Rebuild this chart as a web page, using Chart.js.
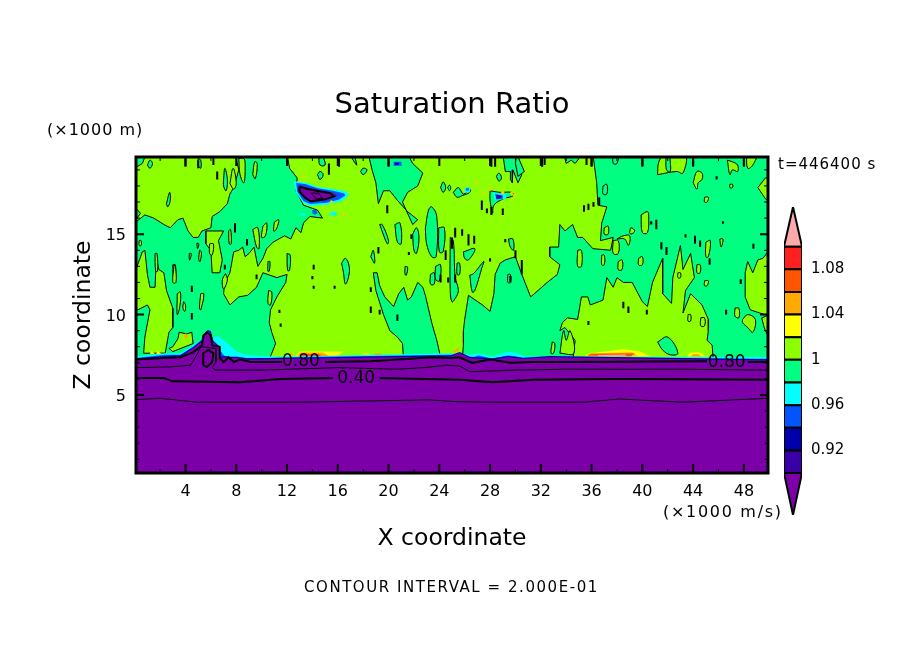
<!DOCTYPE html>
<html>
<head>
<meta charset="utf-8">
<title>Saturation Ratio</title>
<script src="https://cdn.jsdelivr.net/npm/chart.js@4"></script>
<style>
body { margin: 0; background: #fff; }
#wrap { position: relative; width: 904px; height: 654px; overflow: hidden; }
canvas { position: absolute; }
</style>
</head>
<body>
<div id="wrap">
<canvas id="contourChart" width="904" height="654" style="left:0;top:0"></canvas>
<canvas id="colorBar" width="120" height="330" style="left:775px;top:195px"></canvas>
</div>
<script>
// axis ticks
var xTicks = [4, 8, 12, 16, 20, 24, 28, 32, 36, 40, 44, 48];
var xMinorTicks = [2, 6, 10, 14, 18, 22, 26, 30, 34, 38, 42, 46];
var zTicks = [5, 10, 15];
var zMinorTicks = [1, 2, 3, 4, 6, 7, 8, 9, 11, 12, 13, 14, 16, 17, 18, 19];

// colour bar
var levels = [0.90, 0.92, 0.94, 0.96, 0.98, 1.00, 1.02, 1.04, 1.06, 1.08, 1.10];
var levelColors = ['#3a00a8', '#0000aa', '#0055ff', '#00ffff', '#00ff80', '#8cff00', '#ffff00', '#ffaa00', '#ff5500', '#ff2020'];
var barTicks = [0.92, 0.96, 1, 1.04, 1.08];
var overColor = '#ffaaaa', underColor = '#7c00a8';

// regions at saturation ratio below 1 (x, z in km)
var greenRegions = [
  [[8.3,20],[12,20],[12.2,19.1],[12.8,18.5],[12.7,17.7],[13.3,16.8],[14.4,16.5],[14.8,16],[13.8,16.1],[13.3,15.7],[13.1,15.1],[12.7,15.4],[12.3,14.7],[11.8,14.9],[10.9,14.5],[10.4,14.1],[10.1,13.5],[9.7,13],[9.4,14.2],[9,13.8],[8.7,13.6],[8.5,14.2],[8.2,14],[7.8,13.9],[7.5,12.6],[7.1,12],[7,11.3],[7.5,10.6],[8.2,11.1],[8.9,11.2],[9.6,11.7],[10.1,12.6],[11.2,12.3],[12,12.5],[11.9,12],[11.2,11.1],[10.7,10.3],[10.6,9.5],[10.8,8.9],[11.1,8.2],[10.5,7],[0,7],[0,15.7],[0.8,16.2],[1.5,16],[2.3,15.6],[2.8,15.4],[3.4,15.9],[3.8,16],[4.2,15.2],[4.6,14.8],[5,14.8],[5.3,15.2],[6,15.4],[6.1,16.1],[6.7,16.4],[7.3,16.9],[7.5,17.5],[7.8,17.9],[8.2,19],[7.9,20]],
  [[18.4,20],[18.7,19],[19,18.2],[19.2,16.9],[19.6,17.7],[20.1,17.7],[20.7,17.1],[21.5,16.4],[22.3,15.9],[21.9,15.6],[21.1,17],[21.5,17.6],[22.3,18],[22.7,18.8],[21.9,19.4],[21.5,20]],
  [[18.8,12.6],[19,11.5],[19.6,10],[20.1,9],[20.7,8.6],[21.1,8.2],[21.2,7],[24.2,7],[23.8,8.4],[23.4,9.5],[22.9,11.2],[22.7,11.7],[22.3,12],[21.8,11.1],[21.5,10.9],[21.2,11.7],[20.8,11.3],[20.4,10.5],[19.7,11.1],[19.3,11.8],[19.1,12.6]],
  [[36.1,20],[36.4,18.2],[36.5,16.8],[37.2,16.7],[36.8,15.7],[36.7,14.6],[37.7,14.8],[37.5,14],[36.1,14.1],[35.3,14.8],[34.9,14.8],[34.5,15.6],[33.9,15.2],[33.5,15.6],[33.4,14.2],[32.7,14.2],[32.7,13.6],[33.5,13.1],[33.3,12.5],[32.5,12],[31.2,11.1],[30.5,12.5],[30,13.6],[29.2,13.4],[28.8,13.2],[28.4,12.5],[28.3,11.3],[28,10.2],[27.4,10.6],[26.3,11.2],[26,9.7],[25.9,9],[25.9,8.2],[25.8,7],[50,7],[50,20]],
  [[29,20],[30.1,20],[30,19.3],[30.5,18.7],[30.2,18.2],[29.8,19],[29.75,18.2],[29.6,18.4],[29.6,18.9],[29.2,18.9]],
  [[30.1,20],[30.7,18.9],[30.2,18.6],[30,19.4]],
  [[33.8,20],[34,19.4],[34.4,19.6],[34.7,19.4],[35,19.7],[35.1,20]],
  [[0,20],[0.9,20],[0.6,19.4],[0.2,19.2],[0,19.1]],
  [[0,16.7],[0.45,16.3],[0,15.8]]
];

// lime areas that sit on top of the green ones
var limeRegions = [
  [[0,12.6],[0.6,13.9],[0.8,14],[1,12.5],[1.2,11.7],[1.6,11.7],[1.7,13.5],[1.9,12.8],[2.3,12.6],[2.5,11.5],[3,10.4],[3,9.2],[2.7,8.9],[2.4,7.6],[0.7,7.6],[0.8,8.6],[1.2,10.3],[1,10.6],[0,10.2]],
  [[2.7,7.9],[3,7.7],[4.6,8.2],[4.5,8.9],[4.1,8.8],[3.5,8.9],[3.4,8.5],[3,8]],
  [[5.6,15.2],[5.6,14.4],[6,14],[6.1,12.6],[6.7,12.6],[6.9,13.4],[6.6,14.6],[7,15.2]],
  [[33.5,9],[33.7,9.5],[34.1,9.8],[34.9,9.7],[35.2,11.1],[35.7,11.1],[35.9,10.6],[36.9,10.9],[37.2,12.3],[37.7,11.7],[38,12.3],[38.5,12],[39.2,12],[40,10.8],[40.4,10.5],[40.8,12],[41.6,13.5],[41.6,11.3],[42.3,10.7],[42.4,12.3],[43,14.3],[43.2,12.8],[43.8,13.8],[44.1,12.3],[43.4,11.5],[43.2,10.1],[43.8,11.3],[44.7,10.6],[45.2,9.7],[45.2,9],[45.1,8.4],[45.5,8.1],[45.6,7],[34.5,7],[34.7,8.4],[33.9,9.2]],
  [[48.1,12.6],[48.3,13.3],[48.7,12.6],[49.1,13.4],[49.5,13.5],[50,14],[50,9.9],[48.5,10.3],[48.1,11.1]],
  [[49.1,17.9],[49.7,18.5],[50,18.5],[50,17.1],[49.7,17.2]]
];

// small closed contours around lime cells
var limeCells = [
  [[7.5,18.15],[7.75,19.1],[8,18.15],[7.8,17.8]],
  [[9.3,18.7],[9.45,19.5],[9.65,19.4],[9.5,18.45]],
  [[8.2,19.7],[8.6,19.7],[8.7,19.2],[8.6,18.2],[8.3,18.7]],
  [[7.4,15.2],[7.55,15.3],[7.6,14.4],[7.45,14.4]],
  [[11,15.75],[11.35,15.9],[11.15,15.3],[10.95,15.2]],
  [[10.1,15.5],[10.4,15.7],[10.3,14.9],[10,14.8]],
  [[9.3,15.3],[9.7,15.4],[9.8,14.1],[9.6,14.2]],
  [[5.9,14.4],[6.2,14.4],[6.1,13.7],[5.9,13.8]],
  [[5.1,14],[5.25,13.9],[5.15,13.3],[5.05,13.4]],
  [[4.3,13.8],[4.45,13.8],[4.35,13.4],[4.3,13.4]],
  [[4.9,14.45],[5.05,14.4],[4.95,14.1]],
  [[1.6,13.8],[1.75,13.8],[1.8,12.7],[1.65,12.7]],
  [[0.35,14.6],[0.5,14.6],[0.5,14.3],[0.35,14.3]],
  [[3,13.1],[3.2,13.1],[3.2,12.2],[3.05,12.2]],
  [[3.35,11.3],[3.6,11.4],[3.55,10.5],[3.35,10]],
  [[3.85,10.8],[4,10.6],[3.95,10.2],[3.8,10.4]],
  [[5.2,11.3],[5.45,11.3],[5.2,10.3],[5.1,10.4]],
  [[3.1,13.1],[3.2,13],[3.25,12],[3,12]],
  [[7.15,12.55],[7.3,12.15],[7,11.6],[6.9,12.15]],
  [[10.55,11.5],[10.8,11.4],[10.7,10.6],[10.5,10.7]],
  [[41.2,18.7],[41.3,19.5],[41.8,20],[41.9,19],[42.2,18.9],[42.3,20],[43.4,20],[43.2,18.8],[42.7,18.9]],
  [[48.2,20],[49,20],[48.7,19.3],[48.3,19.1]],
  [[46.7,19.6],[46.9,18.7],[47.1,19],[47.5,18.9],[47.5,19.3],[47.1,19.5]],
  [[44,18.2],[44.3,18.9],[44.7,18.8],[44.7,18.4],[44.4,18.2],[44.3,17.8]],
  [[39.9,16.2],[40.4,16.4],[40.5,16.1],[40.4,15.1],[40,15.1]],
  [[39,15.1],[39.1,15.4],[39.4,15.2],[39.1,15]],
  [[38,14.7],[38.5,14.9],[39,14.9],[38.9,14.3],[38.6,14.7]],
  [[37.7,14.6],[38.1,14.6],[38.1,13.8],[37.7,13.8]],
  [[38.1,13.3],[38.4,13.4],[38.4,12.8],[38.1,12.8]],
  [[39.7,13.5],[40,13.6],[40,13.1],[39.7,13.1]],
  [[47.9,9.7],[48.3,10],[48.9,9.7],[48.7,8.9],[48.3,9.2],[47.9,9.5]],
  [[49.4,9.8],[50,9.9],[50,8.7],[49.7,9]],
  [[44.3,13.1],[44.55,13.1],[44.55,12.6],[44.3,12.6]],
  [[45,14.5],[45.35,14.6],[45.2,13.6],[45,13.6]],
  [[46.1,14.7],[46.35,14.7],[46.2,14.2]],
  [[47.3,10.4],[47.6,10.4],[47.6,9.8],[47.3,9.9]],
  [[44.9,17.3],[45.2,17.3],[45.1,17],[44.9,17]],
  [[46.9,18.1],[47.1,18.1],[47.1,17.9],[46.9,17.9]],
  [[43.6,10],[43.8,10],[43.8,9.6],[43.6,9.6]],
  [[44.6,9.8],[44.9,9.8],[44.9,9.3],[44.6,9.3]],
  [[37,15.4],[37.3,15.5],[37.3,15],[37,15]],
  [[44.9,12.1],[45.2,12.1],[45.1,11.8],[44.9,11.8]],
  [[42.8,12.6],[43,12.6],[43,12.3],[42.8,12.3]],
  [[36.8,13.7],[37,13.7],[37,13.1],[36.8,13.1]],
  [[34.9,14],[35.2,14],[35.2,13],[34.9,13]],
  [[32.9,8.3],[33.1,8.2],[33,7.6],[32.8,7.6]],
  [[33.5,7.6],[33.8,9],[34,8.4],[34.3,9],[34.6,7.6]]
];

// small closed contours around green cells
var greenCells = [
  [[7,18.4],[7.1,19.1],[7.3,18.4],[7.2,17.7],[7,18]],
  [[1,19.3],[1.2,19.6],[1.4,19.4],[1.2,19.1]],
  [[2.5,16.9],[2.75,17.6],[2.8,17.1],[2.6,16.7]],
  [[5,19.7],[5.2,19.6],[5.2,19.1],[5,19.3]],
  [[14.5,19.7],[14.8,19.8],[15,19.3],[14.6,19.3]],
  [[16.9,20],[17.2,20],[17.5,19.3],[17.3,19.5]],
  [[14.4,18.7],[14.6,18.9],[14.85,18.7],[14.6,18.4]],
  [[17.8,18.9],[18,19.1],[18.3,19],[18,18.7]],
  [[24.1,17.9],[24.3,18.25],[24.5,17.9],[24.3,17.6]],
  [[24.65,17.9],[24.8,18.05],[24.9,17.9],[24.8,17.7]],
  [[19.3,15.6],[19.5,15.6],[20,14.6],[19.9,14.4]],
  [[20.5,15.6],[20.9,15.7],[21,14.4],[20.7,14.5]],
  [[21.9,15],[22.2,15.4],[22.4,14.8],[22.2,13.8],[22,14]],
  [[22.9,15.35],[23.15,16.5],[23.4,16.7],[23.8,16.1],[23.75,13.6],[23.4,13.6],[23,14.4]],
  [[23.95,15.4],[24.4,15.4],[24.3,13.9],[24,13.9]],
  [[16.3,13.2],[16.6,13.5],[16.9,13],[16.85,12.35],[16.6,11.9],[16.45,12.6]],
  [[18.6,13.6],[18.8,14],[18.9,13.2]],
  [[21.3,13],[21.5,12.95],[21.4,12.45],[21.3,12.5]],
  [[23.3,12.5],[23.6,12.6],[23.6,11.9],[23.3,11.9]],
  [[23.7,13],[24.1,13.1],[24,12.1],[23.7,12.2]],
  [[24.86,14.8],[25.1,14.6],[25.25,12.35],[25.5,11.5],[25.25,11],[25,10.8],[24.86,11.5]],
  [[26.4,12.45],[26.7,12.55],[27.5,13.3],[27.35,12.9],[26.8,11.5],[26.6,11.4]],
  [[25.9,13.9],[26.8,14.1],[26.3,13.4],[26,13.5]],
  [[28.5,18.6],[28.7,18.8],[28.9,18.5],[28.7,18.3]],
  [[29.45,14.7],[29.8,14.7],[29.85,14],[29.6,14.2]],
  [[29.4,12.5],[29.6,12.5],[29.6,12],[29.4,12]],
  [[25.4,13.2],[25.6,13.2],[25.6,12.5],[25.4,12.5]],
  [[36.9,18],[37.2,18.1],[37.2,17.5],[36.9,17.5]],
  [[37.7,20],[38.1,20],[38,19.4],[37.7,19.4]],
  [[12,13.8],[12.25,13.7],[12.2,12.75],[12.05,12.75]],
  [[10.5,13.3],[10.65,13.3],[10.6,12.7],[10.5,12.7]],
  [[25.1,17.6],[25.5,17.9],[25.9,17.5],[26.4,17.8],[26.4,17.6],[25.8,17.4],[25.4,17.3]],
  [[28,17.7],[28.8,17.6],[29.7,17.6],[29.85,17.4],[29.05,17.2],[28.3,16.8],[28.2,16.3],[28,17.1]],
  [[41.2,8.3],[42,8.6],[42.8,7.6],[42.2,7.5],[41.6,7.8]]
];

// short closed cells that read as dashes: x, z top, z bottom
var dashX = [6.5,4,7.9,14.1,14.1,14,15.75,4.5,4.5,7.1,8.85,9.6,18.6,19.2,20,19.9,24.5,25,25.25,25.25,24.1,24.7,20.7,18.6,19.3,5,6.2,16.1,15.3,21.8,21.6,28.1,28.4,32.1,32.3,35.6,36,40,44,48,27.35,27.75,28.1,29,35.4,35.75,36.15,36.6,25.8,26.3,26.75,30,29.2,28,30.5,29.6,41.1,40.7,45.85,43.4,44.15,44.55,41.5,41.9,45.3,48.75,47.75,46.6,40.35,38.9,38.5,35.75,46.35,11.4,11.5];
var dashTop = [18.9,19.7,15.7,13.1,11.8,12.4,11.8,11.8,10.1,13.1,14.7,12.5,11.7,14.2,19.8,16.8,14,14.8,15.4,12.5,12.5,12.3,10,10.5,10.3,19.6,19.8,19.7,19.4,15,13.9,19.8,19.8,19.8,19.8,19.8,19.8,19.8,19.8,19.8,17.1,16.6,16.7,16.6,16.8,16.9,17,17.3,15.3,15,14.9,14,14.7,13.5,13.4,12.4,15.9,15.8,18.6,15,14.9,14.6,14.5,14.2,13.5,14.4,12.2,10.3,10.3,10.5,10.8,9.6,15.8,10.3,9.45];
var dashBottom = [18.4,19.2,15.1,12.8,11.6,12.2,11.6,11.4,9.7,12.8,14.3,12.2,11.4,13.8,19.2,16.3,13.4,14.1,14.8,12,12,12,9.6,10.1,10,19.1,19.3,19.2,18.7,14.7,13.7,19.2,19.2,19.2,19.3,19.3,19.2,19.2,19.2,19.2,16.5,16.3,16.2,16.2,16.4,16.5,16.7,16.8,14.9,14.3,14.4,13.5,14.5,13.3,12.5,12,15.3,15.6,18.4,14.8,14.4,14.2,14.05,13.7,13.1,14.1,11.9,10,10,10.1,10.4,9.35,15.65,10.1,9.25];

// tops of the stable layer, one list per colour
var cyanTop = [[0,7.4],[2.4,7.6],[3.6,7.6],[4.6,8.1],[5.3,8.5],[5.7,9.05],[6,9.05],[6.1,8.55],[6.6,8.65],[7.4,8.15],[8,7.7],[8.8,7.5],[10.7,7.4],[12.3,7.4],[24.9,7.6],[26.4,7.5],[27.1,7.6],[28.2,7.4],[29.4,7.7],[30.1,7.6],[30.8,7.4],[32.7,7.4],[50,7.35]];
var blueTop = [[0,7.3],[2.4,7.5],[3.6,7.5],[4.6,8],[5.3,8.45],[5.7,9.05],[6,9],[6.1,8.4],[6.4,8.1],[6.9,7.6],[7.3,7.2],[7.8,7.3],[8.6,7.3],[10.7,7.3],[12.3,7.35],[24.9,7.5],[26.4,7.3],[27.1,7.45],[28.2,7.25],[29.4,7.45],[30.1,7.4],[30.8,7.25],[32.7,7.3],[50,7.25]];
var darkBlueTop = [[0,7.28],[2.4,7.42],[3.6,7.47],[4.6,7.97],[5.4,8.48],[5.6,8.93],[5.8,9.05],[6,8.93],[6.2,8.38],[6.6,8.08],[6.7,7.38],[7.1,7.42],[7.5,7.38],[8.1,7.38],[8.9,7.28],[12.3,7.32],[24.9,7.47],[25.6,7.67],[26.4,7.38],[28.2,7.28],[29.4,7.42],[30.6,7.32],[32.7,7.42],[50,7.22]];
var purpleTop = [[0,7.2],[2.4,7.35],[3.6,7.4],[4.6,7.9],[5.4,8.4],[5.6,8.85],[5.8,9],[6,8.85],[6.2,8.3],[6.6,8],[6.7,7.3],[7.1,7.35],[7.5,7.3],[8.1,7.3],[8.9,7.2],[12.3,7.25],[24.9,7.4],[25.6,7.6],[26.4,7.3],[28.2,7.2],[29.4,7.35],[30.6,7.25],[32.7,7.35],[50,7.15]];

// warm cells along the top of the stable layer
var warmCells = [
  ['#ffff00', [[12.7,7.4],[13,7.7],[15.2,7.7],[16.5,7.7],[15.9,7.4]]],
  ['#ffaa00', [[12.8,7.4],[13,7.65],[14.8,7.65],[15.4,7.4]]],
  ['#ff5500', [[13.1,7.4],[13.2,7.55],[14.5,7.55],[14.8,7.4]]],
  ['#ffff00', [[17.8,7.4],[18,7.6],[18.4,7.6],[18.5,7.4]]],
  ['#ffaa00', [[18.7,7.4],[18.9,7.6],[19.4,7.6],[19.6,7.4]]],
  ['#ff5500', [[19,7.4],[19.1,7.5],[19.3,7.5],[19.4,7.4]]],
  ['#ffaa00', [[12.1,7.45],[12.3,7.65],[12.5,7.45]]],
  ['#ffaa00', [[24.9,7.6],[25.6,8],[25.5,7.75]]],
  ['#ffff00', [[35.4,7.4],[35.9,7.6],[38.5,7.85],[39.8,7.7],[40.7,7.4]]],
  ['#ffaa00', [[35.6,7.4],[35.9,7.6],[39.2,7.65],[39.6,7.45]]],
  ['#ff5500', [[35.7,7.45],[35.9,7.55],[39.4,7.6],[39.1,7.4]]],
  ['#ffaaaa', [[36.5,7.48],[38.7,7.52],[38.7,7.44],[36.5,7.42]]],
  ['#ffff00', [[43.5,7.4],[43.8,7.65],[44.5,7.65],[45.1,7.4]]],
  ['#ffaa00', [[43.8,7.4],[44,7.55],[44.4,7.55],[44.7,7.4]]],
  ['#ffff00', [[1.2,7.55],[1.3,7.75],[1.6,7.55]]],
  ['#ffff00', [[1.7,7.55],[1.8,7.75],[2.1,7.55]]],
  ['#ffaa00', [[3.9,8.65],[4,8.85],[4.2,8.65],[4,8.45]]]
];

// the dry patch near x = 14, z = 17.5
var patchCyan = [[12.5,18.3],[13.5,18.2],[14.4,17.95],[15.7,17.8],[16.7,17.65],[16.85,17.4],[16.3,17.05],[15.2,16.85],[13.8,16.75],[13.25,16.95],[12.7,17.6]];
var patchBlue = [[12.7,18.2],[13.5,18.1],[14.4,17.85],[15.6,17.7],[16.5,17.55],[16.6,17.4],[16.1,17.15],[15.1,16.95],[13.85,16.87],[13.3,17.05],[12.85,17.6]];
var patchPurple = [[12.9,18.05],[13.7,17.9],[15.6,17.6],[16,17.4],[15.15,17.1],[13.85,17],[13.3,17.25],[12.8,17.7]];
var patchContour = [[13,17.95],[13.7,17.8],[15.4,17.55],[15.7,17.35],[14.9,17.15],[13.85,17.05],[13.4,17.3],[13,17.65]];
var patchInner = [[13.9,17.55],[14.5,17.55],[14.8,17.2],[14.3,17.2]];
var spotCells = [
  ['#0055ff', [[14,16.5],[14.3,16.5],[14.4,16.3],[14.2,16.2],[14,16.3]]],
  ['#00ffff', [[15.3,16.25],[15.7,16.45],[16,16.25],[15.7,16.15],[15.3,16.2]]],
  ['#00ffff', [[13.1,16.3],[13.4,16.3],[13.4,16.15],[13.1,16.15]]],
  ['#0055ff', [[20.4,19.5],[21,19.5],[21.05,19.25],[20.4,19.25]]],
  ['#0000aa', [[20.5,19.45],[20.8,19.45],[20.8,19.3],[20.5,19.3]]],
  ['#00ffff', [[28.2,17.6],[29.2,17.5],[29.3,17.2],[28.4,17.1]]],
  ['#0055ff', [[28.4,17.5],[29,17.4],[29,17.2],[28.5,17.15]]],
  ['#3a00a8', [[28.5,17.45],[28.9,17.4],[28.9,17.25],[28.5,17.2]]],
  ['#00ffff', [[26,17.9],[26.45,17.9],[26.4,17.6],[26,17.6]]],
  ['#0055ff', [[26.1,17.85],[26.35,17.85],[26.3,17.7],[26.1,17.7]]]
];
var warmDotX = [26.9,27.5,28,29,29.7,29.9,13.3,15.5,16.45];
var warmDotZ = [18.2,17.6,17.8,17.6,17.55,17.4,18.6,17,16.2];

// labelled contour lines
var line080a = [[0,7.2],[2.3,7.3],[3.6,7.35],[4.6,7.65],[5.3,8.1],[5.4,8.7],[5.7,8.9],[6,8.7],[6.1,8.1],[6.7,8],[6.7,7.3],[7,7.05],[7.4,7.35],[7.8,7.05],[8.3,7.2],[9.1,7.05],[10.9,7.05],[11.6,7.05]];
var line080b = [[15,7.05],[18.6,7.1],[21.7,7.25],[23.3,7.35],[24.9,7.3],[25.6,7.35],[26.6,7],[28,7.2],[29.6,7],[31.4,7.05],[34.3,7.05],[45.1,7.1]];
var line080c = [[48.3,7.05],[50,7.05]];
var line080loop = [[5.4,6.85],[5.4,7.6],[5.8,7.8],[6.2,7.6],[6.1,7.05],[5.7,6.75],[5.4,6.85]];
var line060 = [[0,6.7],[2.8,6.75],[4.4,6.85],[4.9,7.5],[5.2,8],[6.4,7.9],[6.4,7.05],[6.1,6.7],[6.4,6.55],[8.1,6.55],[10.1,6.55],[16,6.7],[20.7,6.6],[22.7,6.7],[24.6,6.85],[25.6,6.8],[26.4,6.45],[30.1,6.55],[33.8,6.6],[43.2,6.6],[50,6.55]];
var line040a = [[0,6.05],[2.3,6.05],[3,5.85],[8.3,5.8],[11.5,6],[15.6,6.05]];
var line040b = [[19.3,6.05],[25.6,5.95],[28.2,5.8],[31.4,5.95],[37.5,6],[39.2,6],[50,5.95]];
var line020 = [[0,4.7],[2,4.8],[4.9,4.55],[12.8,4.55],[23.3,4.7],[24.9,4.6],[28.2,4.55],[35.3,4.55],[38.2,4.75],[43.2,4.55],[50,4.8]];
var contourLabelText = ['0.80', '0.40', '0.80'];
var contourLabelX = [13.1, 17.45, 46.65];
var contourLabelZ = [7.05, 6.05, 7.0];

var chartTitle = 'Saturation Ratio';
var xTitle = 'X coordinate';
var zTitle = 'Z coordinate';
var zUnit = '(\u00d71000 m)';
var xUnit = '(\u00d71000 m/s)';
var timeLabel = 't=446400 s';
var footerLabel = 'CONTOUR INTERVAL = 2.000E-01';

var LIME = '#8cff00', GREEN = '#00ff80', PURPLE = '#7c00a8';
var FONT = '"DejaVu Sans"';

function toPoints(list) {
    return list.map(function (p) { return { x: p[0], y: p[1] }; });
}

function shape(list, color, lineWidth, smooth) {
    var pts = toPoints(list);
    pts.push(pts[0]);
    return {
        data: pts,
        showLine: true,
        fill: 'shape',
        backgroundColor: color,
        borderColor: lineWidth ? '#000' : color,
        borderWidth: lineWidth || 0,
        pointRadius: 0,
        tension: smooth || 0
    };
}

function band(top, color) {
    return shape(top.concat([[50, 0], [0, 0]]), color, 0);
}

function line(list, width) {
    return {
        data: toPoints(list),
        showLine: true,
        fill: false,
        borderColor: '#000',
        borderWidth: width,
        pointRadius: 0,
        tension: 0
    };
}

var layers = [];
layers.push(shape([[0, 0], [50, 0], [50, 20], [0, 20]], LIME, 0));
greenRegions.forEach(function (r) { layers.push(shape(r, GREEN, 1)); });
limeRegions.forEach(function (r) { layers.push(shape(r, LIME, 1)); });
limeCells.forEach(function (r) { layers.push(shape(r, LIME, 1, 0.4)); });
greenCells.forEach(function (r) { layers.push(shape(r, GREEN, 1, 0.4)); });
warmCells.forEach(function (r) { layers.push(shape(r[1], r[0], 0)); });
spotCells.forEach(function (r) { layers.push(shape(r[1], r[0], 0)); });
layers.push(shape(patchCyan, '#00ffff', 0));
layers.push(shape(patchBlue, '#0055ff', 0));
layers.push(shape(patchPurple, PURPLE, 0));
layers.push(shape(patchContour, PURPLE, 2));
layers.push(shape(patchInner, PURPLE, 1));
layers.push(band(cyanTop, '#00ffff'));
layers.push(band(blueTop, '#0055ff'));
layers.push(band(darkBlueTop, '#0000aa'));
layers.push(band(purpleTop, PURPLE));
layers.push(line(line020, 1));
layers.push(line(line060, 1));
layers.push(line(line040a, 2));
layers.push(line(line040b, 2));
layers.push(line(line080a, 2));
layers.push(line(line080b, 2));
layers.push(line(line080c, 2));
layers.push(line(line080loop, 2));

var dashPoints = [];
dashX.forEach(function (x, i) {
    dashPoints.push({ x: x, y: dashTop[i] }, { x: x, y: dashBottom[i] }, { x: x, y: null });
});
layers.push({ data: dashPoints, showLine: true, spanGaps: false, borderColor: '#000', borderWidth: 2, pointRadius: 0, fill: false });

layers.push({
    data: warmDotX.map(function (x, i) { return { x: x, y: warmDotZ[i] }; }),
    showLine: false,
    pointStyle: 'rectRot',
    pointRadius: 2,
    pointBorderWidth: 0,
    backgroundColor: '#ffcc00'
});

// first dataset is drawn last by Chart.js, so order them by hand
layers.forEach(function (ds, i) { ds.order = layers.length - i; });

var framePlugin = {
    id: 'frame',
    afterDatasetsDraw: function (chart) {
        var ctx = chart.ctx, a = chart.chartArea;
        var xs = chart.scales.x, ys = chart.scales.y;
        ctx.save();
        ctx.strokeStyle = '#000';

        function vTick(v, len, w) {
            var px = xs.getPixelForValue(v);
            ctx.lineWidth = w;
            ctx.beginPath();
            ctx.moveTo(px, a.bottom); ctx.lineTo(px, a.bottom - len);
            ctx.moveTo(px, a.top); ctx.lineTo(px, a.top + len);
            ctx.stroke();
        }
        function hTick(v, len, w) {
            var py = ys.getPixelForValue(v);
            ctx.lineWidth = w;
            ctx.beginPath();
            ctx.moveTo(a.left, py); ctx.lineTo(a.left + len, py);
            ctx.moveTo(a.right, py); ctx.lineTo(a.right - len, py);
            ctx.stroke();
        }
        xMinorTicks.forEach(function (v) { vTick(v, 4, 1); });
        xTicks.forEach(function (v) { vTick(v, 9, 2); });
        zMinorTicks.forEach(function (v) { hTick(v, 4, 1); });
        zTicks.forEach(function (v) { hTick(v, 8, 2); });

        ctx.lineWidth = 3;
        ctx.strokeRect(a.left, a.top, a.right - a.left, a.bottom - a.top);

        // contour labels sit in the gaps of their lines
        ctx.fillStyle = '#000';
        ctx.font = '17px ' + FONT;
        ctx.textAlign = 'center';
        ctx.textBaseline = 'middle';
        contourLabelText.forEach(function (t, i) {
            ctx.fillText(t, xs.getPixelForValue(contourLabelX[i]), ys.getPixelForValue(contourLabelZ[i]));
        });

        ctx.font = '29px ' + FONT;
        ctx.fillText(chartTitle, 452, 105);

        // loose labels around the plot
        ctx.font = '16px ' + FONT;
        ctx.letterSpacing = '1px';
        ctx.textAlign = 'left';
        ctx.fillText(zUnit, 47, 131);
        ctx.letterSpacing = '1.7px';
        ctx.fillText(xUnit, 663, 513);
        ctx.font = '15px ' + FONT;
        ctx.letterSpacing = '1px';
        ctx.fillText(timeLabel, 778, 165);
        ctx.letterSpacing = '1.55px';
        ctx.fillText(footerLabel, 304, 588);
        ctx.restore();
    }
};

var config = {
    type: 'scatter',
    data: { datasets: layers },
    options: {
        responsive: false,
        animation: false,
        devicePixelRatio: 1,
        layout: { padding: { left: 0, right: 136, top: 157, bottom: 0 } },
        scales: {
            x: {
                type: 'linear',
                min: 0.1,
                max: 49.9,
                grid: { display: false, drawTicks: false },
                border: { display: false },
                afterFit: function (scale) { scale.height = 181; },
                afterBuildTicks: function (scale) {
                    scale.ticks = xTicks.map(function (v) { return { value: v }; });
                },
                ticks: { color: '#000', font: { family: 'DejaVu Sans', size: 16 }, padding: 9, maxRotation: 0, autoSkip: false },
                title: { display: true, text: xTitle, color: '#000', font: { family: 'DejaVu Sans', size: 23.5 }, padding: { top: 0, bottom: 101 } }
            },
            y: {
                type: 'linear',
                min: 0.15,
                max: 19.8,
                grid: { display: false, drawTicks: false },
                border: { display: false },
                afterFit: function (scale) { scale.width = 136; },
                afterBuildTicks: function (scale) {
                    scale.ticks = zTicks.map(function (v) { return { value: v }; });
                },
                ticks: { color: '#000', font: { family: 'DejaVu Sans', size: 16 }, padding: 10, labelOffset: 2, autoSkip: false },
                title: { display: true, text: zTitle, color: '#000', font: { family: 'DejaVu Sans', size: 23.5 }, padding: { top: 70, bottom: 0 } }
            }
        },
        plugins: {
            legend: { display: false },
            tooltip: { enabled: false }
        }
    },
    plugins: [framePlugin]
};

new Chart(document.getElementById('contourChart').getContext('2d'), config);

// colour bar: one cell per level plus the two end arrows
var barSets = [];
levelColors.forEach(function (c, i) {
    barSets.push(shape([[0, levels[i]], [1, levels[i]], [1, levels[i + 1]], [0, levels[i + 1]]], c, 2));
});
barSets.push(shape([[0, 1.10], [1, 1.10], [0.5, 1.135]], overColor, 2));
barSets.push(shape([[0, 0.90], [1, 0.90], [0.5, 0.863]], underColor, 2));

new Chart(document.getElementById('colorBar').getContext('2d'), {
    type: 'scatter',
    data: { datasets: barSets },
    options: {
        responsive: false,
        animation: false,
        devicePixelRatio: 1,
        layout: { padding: { left: 9, right: 0, top: 12, bottom: 10 } },
        scales: {
            x: { type: 'linear', min: 0, max: 1, display: false },
            y: {
                type: 'linear',
                position: 'right',
                min: 0.863,
                max: 1.135,
                grid: { display: false, drawTicks: false },
                border: { display: false },
                afterFit: function (scale) {
                    scale.width = 93;
                    scale.paddingTop = 0;
                    scale.paddingBottom = 0;
                },
                afterBuildTicks: function (scale) {
                    scale.ticks = barTicks.map(function (v) { return { value: v }; });
                },
                ticks: {
                    color: '#000',
                    font: { family: 'DejaVu Sans', size: 15 },
                    padding: 9,
                    autoSkip: false,
                    callback: function (v) { return String(v); }
                }
            }
        },
        plugins: { legend: { display: false }, tooltip: { enabled: false } }
    }
});
</script>
</body>
</html>
